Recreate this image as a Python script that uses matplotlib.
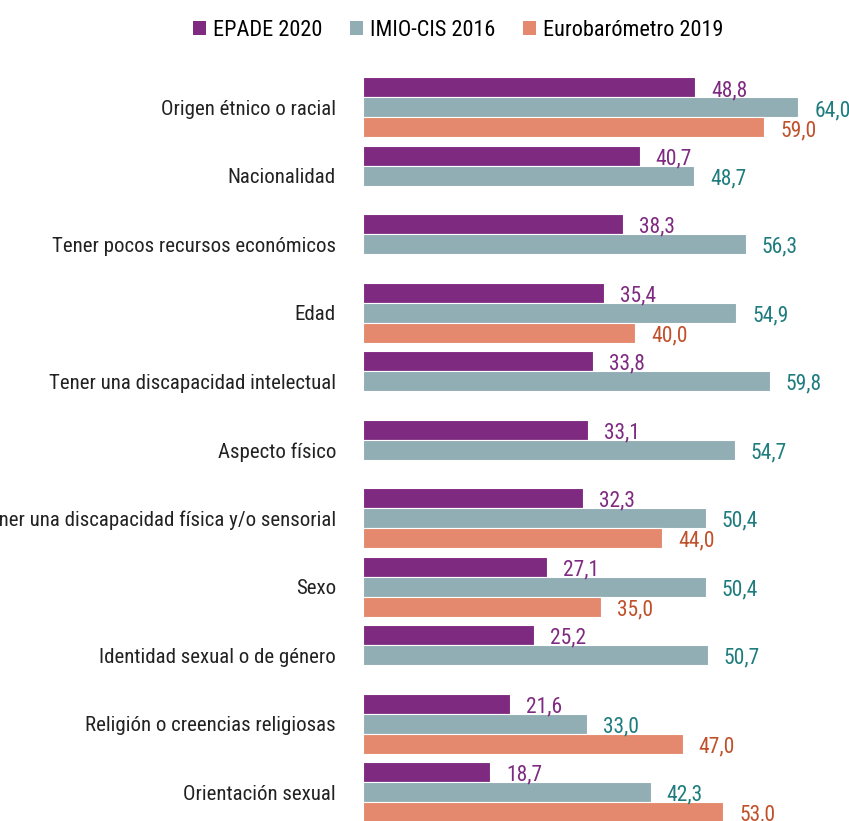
import numpy as np
import matplotlib.pyplot as plt
from matplotlib.patches import Patch

plt.rcParams['font.family'] = ['Roboto Condensed', 'DejaVu Sans']

categories = [
    'Origen étnico o racial',
    'Nacionalidad',
    'Tener pocos recursos económicos',
    'Edad',
    'Tener una discapacidad intelectual',
    'Aspecto físico',
    'Tener una discapacidad física y/o sensorial',
    'Sexo',
    'Identidad sexual o de género',
    'Religión o creencias religiosas',
    'Orientación sexual',
]
epade = [48.8, 40.7, 38.3, 35.4, 33.8, 33.1, 32.3, 27.1, 25.2, 21.6, 18.7]
imio = [64.0, 48.7, 56.3, 54.9, 59.8, 54.7, 50.4, 50.4, 50.7, 33.0, 42.3]
euro = [59.0, None, None, 40.0, None, None, 44.0, 35.0, None, 47.0, 53.0]

series = [
    ('EPADE 2020', epade, '#7e2a80', '#7e2a80'),
    ('IMIO-CIS 2016', imio, '#90aeb4', '#1e7c7e'),
    ('Eurobarómetro 2019', euro, '#e4896d', '#c0502a'),
]

fig = plt.figure(figsize=(8.49, 8.21), dpi=100)
ax = fig.add_axes([363 / 849, 0, 1 - 363 / 849, 1])

h = 20 / 68.45
y = np.arange(len(categories))

for k, (name, vals, col, tcol) in enumerate(series):
    for i, v in enumerate(vals):
        if v is None:
            continue
        yy = y[i] + (k - 1) * h
        ax.barh(yy, v, height=h, color=col, edgecolor='white', linewidth=0.8)
        ax.annotate(f'{v:.1f}'.replace('.', ','), (v, yy),
                    xytext=(16, -3), textcoords='offset pixels',
                    ha='left', va='center', fontsize=15.5, color=tcol)

ax.set_xlim(0, (849 - 363) / 6.8)
ax.set_ylim((821 - 107.5) / 68.45, -107.5 / 68.45)
ax.set_yticks(y)
ax.set_yticklabels(categories, fontsize=15, color='#222222')
ax.tick_params(axis='y', length=0, pad=19.5)
ax.set_xticks([])
for s in ax.spines.values():
    s.set_visible(False)

handles = [Patch(facecolor=c, label=n) for n, _, c, _ in series]
fig.legend(handles=handles, loc='center', bbox_to_anchor=(458 / 849, 1 - 30 / 821),
           ncol=3, frameon=False, fontsize=16, handlelength=0.6, handleheight=0.6,
           handletextpad=0.3, columnspacing=1.25)

fig.savefig('out.png', dpi=100)
